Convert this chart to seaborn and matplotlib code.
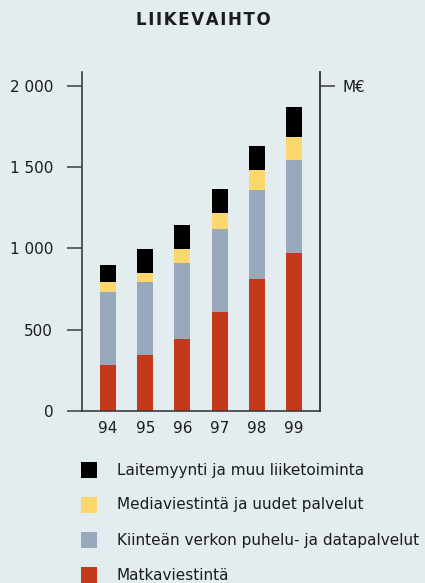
import matplotlib
matplotlib.use("Agg")
import matplotlib.pyplot as plt
from matplotlib.patches import Rectangle
import seaborn as sns
import pandas as pd
import numpy as np

years = ["94", "95", "96", "97", "98", "99"]
matkaviestinta = [283, 345, 443, 609, 812, 972]
kiintea = [449, 449, 468, 511, 548, 573]
media = [62, 55, 86, 98, 123, 141]
laitemyynti = [106, 148, 148, 148, 148, 185]

series_names = ["Laitemyynti ja muu liiketoiminta",
                "Mediaviestintä ja uudet palvelut",
                "Kiinteän verkon puhelu- ja datapalvelut",
                "Matkaviestintä"]
colors = ["#000000", "#fcd76b", "#99a9bb", "#c3391a"]
y_ticks = [0, 500, 1000, 1500, 2000]
y_tick_labels = ["0", "500", "1 000", "1 500", "2 000"]
title = "LIIKEVAIHTO"
unit = "M€"

BG = "#e3ecee"
INK = "#1c1c1c"
SPINE = "#3c3c3c"

sns.set_style("white")
plt.rcParams["font.family"] = ["DejaVu Sans"]

W, H = 425, 583
fig = plt.figure(figsize=(W / 100, H / 100), dpi=100, facecolor=BG)
ax = fig.add_axes([81.7 / W, 1 - 411 / H, (320 - 81.7) / W, (411 - 72) / H])
ax.set_facecolor(BG)

# stacked layers (bottom to top): red, grey, yellow, black
layers_bottom_up = [matkaviestinta, kiintea, media, laitemyynti]
cum = np.cumsum(np.array(layers_bottom_up), axis=0)
df = pd.DataFrame({"year": years})
for i in range(3, -1, -1):
    df["v"] = cum[i]
    sns.barplot(data=df, x="year", y="v", order=years, color=colors[3 - i],
                saturation=1, width=0.43, ax=ax, linewidth=0, errorbar=None)

ax.set_xlim(-0.71, 5.70)
ax.set_ylim(0, 2086)
ax.set_xlabel("")
ax.set_ylabel("")
ax.set_yticks(y_ticks)
ax.set_yticklabels(y_tick_labels)

ax.spines["top"].set_visible(False)
for s in ["left", "right", "bottom"]:
    ax.spines[s].set_visible(True)
    ax.spines[s].set_color(SPINE)
    ax.spines[s].set_linewidth(1.2)

ax.tick_params(axis="y", direction="out", length=11, width=1.1, color=SPINE,
               labelsize=11, labelcolor=INK, pad=9.5, left=True)
ax.tick_params(axis="x", length=0, labelsize=11, labelcolor=INK, pad=7)

ax2 = ax.twinx()
ax2.set_ylim(ax.get_ylim())
ax2.set_yticks([2000])
ax2.set_yticklabels([unit])
ax2.tick_params(axis="y", direction="out", length=11, width=1.1, color=SPINE,
                labelsize=11, labelcolor=INK, pad=5, right=True)
for s in ["top", "left", "bottom"]:
    ax2.spines[s].set_visible(False)
ax2.spines["right"].set_color(SPINE)
ax2.spines["right"].set_linewidth(1.2)

fig.text(203 / W, 1 - 20 / H, "\u200a".join(title), ha="center", va="center",
         fontsize=12, color=INK, fontweight="bold")

# legend
rows_y = [470, 505, 540, 575]
for name, col, yc in zip(series_names, colors, rows_y):
    fig.add_artist(Rectangle((81 / W, 1 - (yc + 8) / H), 16 / W, 16 / H,
                             transform=fig.transFigure, facecolor=col,
                             edgecolor="none"))
    fig.text(117 / W, 1 - yc / H, name, ha="left", va="center",
             fontsize=11, color=INK)

fig.savefig("out.png", dpi=100, facecolor=BG)
